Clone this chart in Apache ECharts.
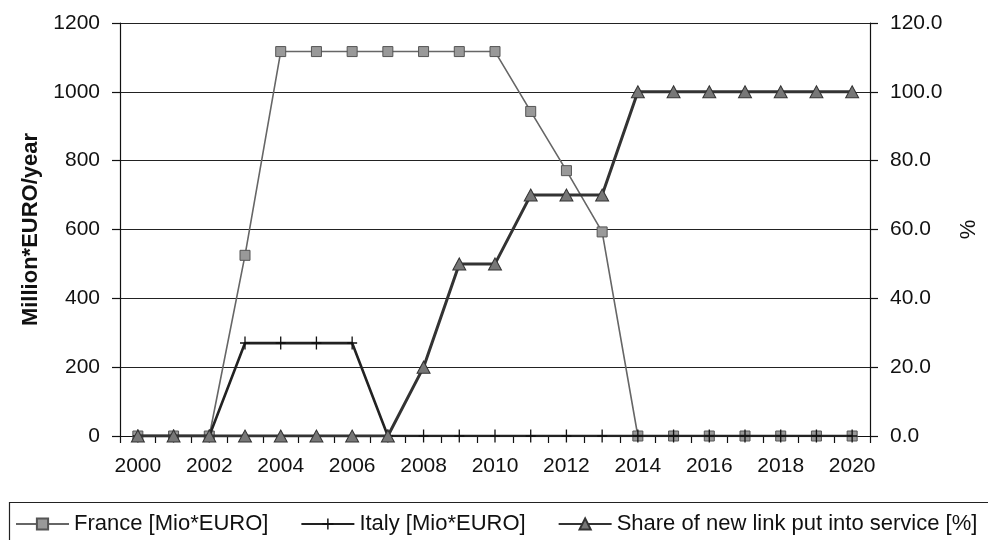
<!DOCTYPE html>
<html>
<head>
<meta charset="utf-8">
<script src="https://cdn.jsdelivr.net/npm/echarts@6/dist/echarts.min.js"></script>
<style>
  html, body { margin: 0; padding: 0; background: #fff; }
  #chart { width: 988px; height: 540px; }
</style>
</head>
<body>
<div id="chart"></div>
<script>
// Years on the category axis
const years = ['2000', '2001', '2002', '2003', '2004', '2005', '2006', '2007', '2008', '2009', '2010',
               '2011', '2012', '2013', '2014', '2015', '2016', '2017', '2018', '2019', '2020'];

// Annual amounts, Million EURO per year
const france = [0, 0, 0, 525, 1117, 1117, 1117, 1117, 1117, 1117, 1117, 943, 771, 593, 0, 0, 0, 0, 0, 0, 0];
const italy  = [0, 0, 0, 270, 270, 270, 270, 0, 0, 0, 0, 0, 0, 0, 0, 0, 0, 0, 0, 0, 0];

// Share of the new link put into service, percent
const share  = [0, 0, 0, 0, 0, 0, 0, 0, 20, 50, 50, 70, 70, 70, 100, 100, 100, 100, 100, 100, 100];

// Axis scales
const leftAxis  = { min: 0, max: 1200, step: 200 };
const rightAxis = { min: 0, max: 120, step: 20 };

const names = ['France [Mio*EURO]', 'Italy [Mio*EURO]', 'Share of new link put into service [%]'];

const FONT = 'Liberation Sans, Arial, Helvetica, sans-serif';
const INK = '#111';

const chart = echarts.init(document.getElementById('chart'), null, { renderer: 'canvas' });

chart.setOption({
  backgroundColor: '#fff',
  animation: false,
  textStyle: { fontFamily: FONT, color: INK },
  grid: { left: 120, right: 116, top: 23, bottom: 104, containLabel: false },
  legend: {
    data: names,
    left: 15,
    top: 513,
    width: 973,
    padding: 0,
    itemWidth: 53,
    itemHeight: 14,
    itemGap: 32,
    textStyle: { fontFamily: FONT, fontSize: 22, color: INK },
    selectedMode: false
  },
  graphic: [{
    type: 'rect',
    left: 7,
    top: 500,
    shape: { width: 1000, height: 60 },
    style: { fill: 'none', stroke: '#222', lineWidth: 1.2 },
    silent: true
  }],
  xAxis: {
    type: 'category',
    data: years,
    boundaryGap: true,
    axisLine: { onZero: false, lineStyle: { color: INK, width: 1.2 } },
    axisTick: { show: true, interval: 0, length: 7, lineStyle: { color: INK, width: 1.2 } },
    axisLabel: { interval: 1, margin: 20, fontSize: 21, color: INK, fontFamily: FONT },
    splitLine: { show: false }
  },
  yAxis: [{
    type: 'value',
    position: 'left',
    min: leftAxis.min,
    max: leftAxis.max,
    interval: leftAxis.step,
    name: 'Million*EURO/year',
    nameLocation: 'middle',
    nameRotate: 90,
    nameGap: 76,
    nameTextStyle: { fontFamily: FONT, fontSize: 22, fontWeight: 'bold', color: INK },
    axisLine: { show: true, lineStyle: { color: INK, width: 1.2 } },
    axisTick: { show: true, length: 8, lineStyle: { color: INK, width: 1.2 } },
    axisLabel: {
      margin: 20, fontSize: 21, color: INK, fontFamily: FONT,
      formatter: v => String(v)
    },
    splitLine: { show: true, lineStyle: { color: '#222', width: 1.2 } }
  }, {
    type: 'value',
    position: 'right',
    min: rightAxis.min,
    max: rightAxis.max,
    interval: rightAxis.step,
    name: '%',
    nameLocation: 'middle',
    nameRotate: 90,
    nameGap: 88,
    nameTextStyle: { fontFamily: FONT, fontSize: 22, color: INK },
    axisLine: { show: true, lineStyle: { color: INK, width: 1.2 } },
    axisTick: { show: true, length: 8, lineStyle: { color: INK, width: 1.2 } },
    axisLabel: {
      margin: 20, fontSize: 21, color: INK, fontFamily: FONT,
      formatter: v => v.toFixed(1)
    },
    splitLine: { show: false }
  }],
  series: [{
    name: names[0],
    type: 'line',
    yAxisIndex: 0,
    data: france,
    symbol: 'rect',
    symbolSize: 10,
    itemStyle: { color: '#999', borderColor: '#555', borderWidth: 1 },
    lineStyle: { color: '#666', width: 1.6 },
    z: 3
  }, {
    name: names[1],
    type: 'line',
    yAxisIndex: 0,
    data: italy,
    // thin plus-shaped marker
    symbol: 'path://M4,0h1.2v10h-1.2z M0,4.4h9.2v1.2h-9.2z',
    symbolSize: [10, 13],
    itemStyle: { color: '#111' },
    lineStyle: { color: '#222', width: 2.6 },
    z: 4
  }, {
    name: names[2],
    type: 'line',
    yAxisIndex: 1,
    data: share,
    symbol: 'triangle',
    symbolSize: [13, 12],
    itemStyle: { color: '#777', borderColor: '#333', borderWidth: 1 },
    lineStyle: { color: '#333', width: 3 },
    z: 5
  }]
});
</script>
</body>
</html>
